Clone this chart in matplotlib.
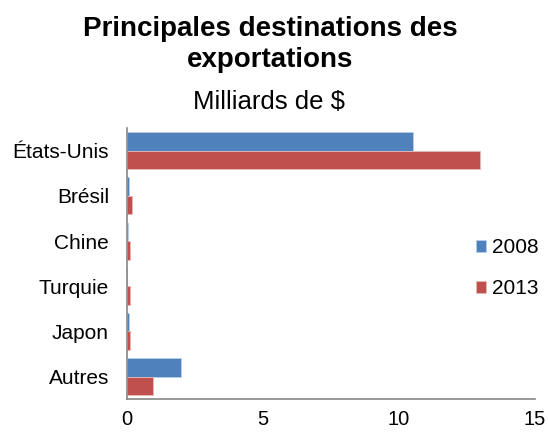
import matplotlib.pyplot as plt
import numpy as np

plt.rcParams['font.family'] = ['Liberation Sans', 'DejaVu Sans']

categories = ['États-Unis', 'Brésil', 'Chine', 'Turquie', 'Japon', 'Autres']
values_2008 = [10.5, 0.08, 0.04, 0.01, 0.06, 2.0]
values_2013 = [13.0, 0.17, 0.12, 0.12, 0.12, 0.95]
xticks = [0, 5, 10, 15]

fig = plt.figure(figsize=(5.48, 4.34), dpi=100)
ax = fig.add_axes([0.232, 0.08, 0.744, 0.625])

y = np.arange(len(categories))
h = 0.41
ax.barh(y - h / 2, values_2008, height=h, color='#4F81BD', edgecolor='#B9CDE5',
        linewidth=0.6, label='2008')
ax.barh(y + h / 2, values_2013, height=h, color='#C0504D', edgecolor='#E6B9B8',
        linewidth=0.6, label='2013')

ax.set_ylim(len(categories) - 0.5, -0.5)
ax.set_xlim(0, 15)
ax.set_yticks(y)
ax.set_yticklabels(categories, fontsize=15)
ax.set_xticks(xticks)
ax.set_xticklabels([str(t) for t in xticks], fontsize=14.5)

for s in ['top', 'right']:
    ax.spines[s].set_visible(False)
for s in ['left', 'bottom']:
    ax.spines[s].set_color('#868686')
    ax.spines[s].set_linewidth(1.2)
ax.tick_params(axis='y', length=0, pad=13)
ax.tick_params(axis='x', length=0, pad=8)

fig.text(0.493, 0.898, 'Principales destinations des\nexportations', ha='center',
         va='center', fontsize=20, fontweight='bold', linespacing=1.25)
fig.text(0.490, 0.765, 'Milliards de $', ha='center', va='center', fontsize=18.5)

fig.legend(loc='center left', bbox_to_anchor=(0.868, 0.382), frameon=False,
           fontsize=15, handlelength=0.5, handleheight=0.5, handletextpad=0.3,
           labelspacing=1.05, borderpad=0, borderaxespad=0)

fig.savefig('out.png', dpi=100)
